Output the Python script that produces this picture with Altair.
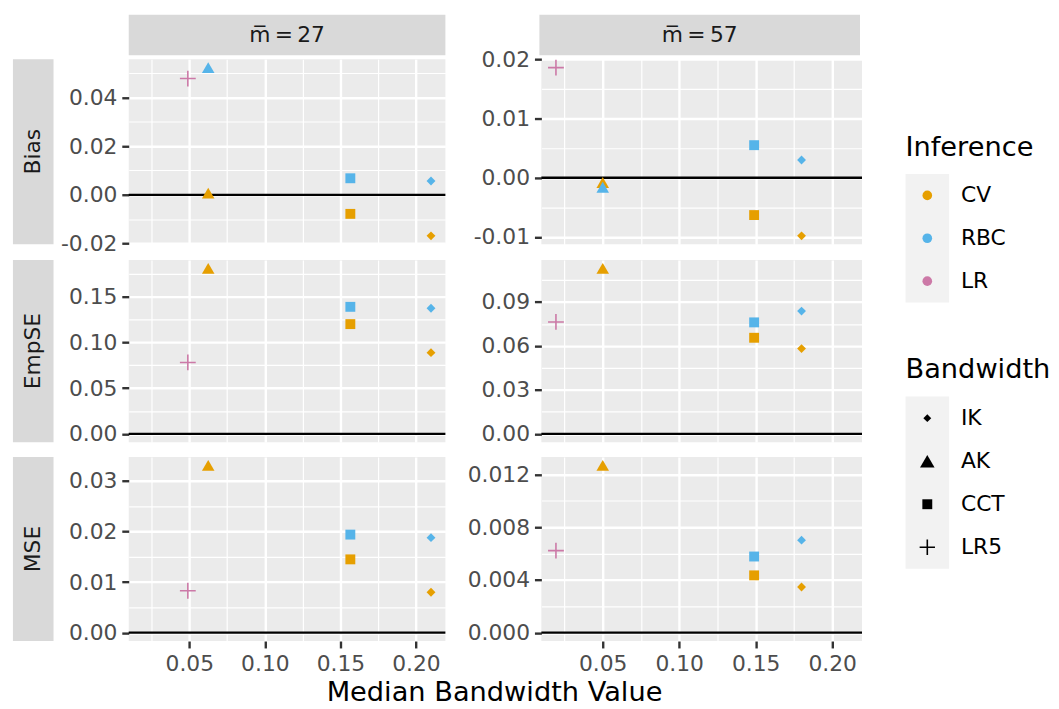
import json
import pandas as pd
import altair as alt

FONT = "DejaVu Sans"

# ---------------- data ----------------
metrics = ["Bias", "EmpSE", "MSE"]
mbar = [27, 57]
strip_labels = ["m\u0305\u2009=\u200927", "m\u0305\u2009=\u200957"]
inference = ["CV", "RBC", "LR"]
inference_colors = ["#E69F00", "#56B4E9", "#CC79A7"]
bandwidths = ["IK", "AK", "CCT", "LR5"]

pt_inference = ["CV", "CV", "CV", "RBC", "RBC", "RBC", "LR"]
pt_bandwidth = ["IK", "AK", "CCT", "IK", "AK", "CCT", "LR5"]

bw_x_27 = [0.210, 0.0625, 0.1566, 0.210, 0.0625, 0.1566, 0.049]
bw_x_57 = [0.180, 0.050, 0.149, 0.180, 0.050, 0.149, 0.0194]

bias_27 = [-0.0168, 0.0007, -0.0078, 0.0057, 0.0522, 0.0068, 0.0477]
bias_57 = [-0.0098, -0.0008, -0.0063, 0.0030, -0.0016, 0.0055, 0.0186]
empse_27 = [0.0888, 0.181, 0.120, 0.1374, None, 0.1389, 0.0781]
empse_57 = [0.0582, 0.113, 0.0656, 0.0838, None, 0.0761, 0.0764]
mse_27 = [0.0080, 0.0331, 0.0145, 0.0188, None, 0.0194, 0.0083]
mse_57 = [0.00347, 0.0127, 0.00435, 0.00702, None, 0.00578, 0.00623]

x_major = [0.05, 0.10, 0.15, 0.20]
x_minor = [0.025, 0.075, 0.125, 0.175]
y_ticks = {
    ("Bias", 27): ([-0.02, 0.0, 0.02, 0.04], [-0.01, 0.01, 0.03, 0.05], 2),
    ("Bias", 57): ([-0.01, 0.0, 0.01, 0.02], [-0.005, 0.005, 0.015], 2),
    ("EmpSE", 27): ([0.0, 0.05, 0.10, 0.15], [0.025, 0.075, 0.125, 0.175], 2),
    ("EmpSE", 57): ([0.0, 0.03, 0.06, 0.09], [0.015, 0.045, 0.075, 0.105], 2),
    ("MSE", 27): ([0.0, 0.01, 0.02, 0.03], [0.005, 0.015, 0.025], 2),
    ("MSE", 57): ([0.0, 0.004, 0.008, 0.012], [0.002, 0.006, 0.010], 3),
}

values = {
    ("Bias", 27): bias_27, ("Bias", 57): bias_57,
    ("EmpSE", 27): empse_27, ("EmpSE", 57): empse_57,
    ("MSE", 27): mse_27, ("MSE", 57): mse_57,
}
xs = {27: bw_x_27, 57: bw_x_57}

rows = []
for (met, m), vals in values.items():
    for inf, bw, x, v in zip(pt_inference, pt_bandwidth, xs[m], vals):
        if v is not None:
            rows.append(dict(metric=met, m=m, inference=inf, bandwidth=bw, x=x, value=v))
df = pd.DataFrame(rows)

# ---------------- styling helpers ----------------
PLUS = "M-1,0L1,0M0,-1L0,1"
color_scale = alt.Scale(domain=inference, range=inference_colors)
panel_shapes = [("IK", "diamond", 80), ("AK", "triangle-up", 161), ("CCT", "square", 100)]
legend_shapes = [("IK", "diamond", 64), ("AK", "triangle-up", 216), ("CCT", "square", 100)]

all_x = df["x"].tolist()
xpad = 0.05 * (max(all_x) - min(all_x))
xdom = [min(all_x) - xpad, max(all_x) + xpad]


def make_axis(major, minor, dec, dom, show=True, extent=None):
    major = [v for v in major if dom[0] <= v <= dom[1]]
    minor = [v for v in minor if dom[0] <= v <= dom[1]]
    is_minor = f"indexof({json.dumps(minor)}, datum.value) >= 0"
    kw = dict(values=major + minor, grid=True, gridColor="#FFFFFF",
              gridWidth={"condition": {"test": is_minor, "value": 1.2}, "value": 2.4},
              domain=False, title=None, labelOverlap=False, labelFlush=False)
    if show:
        fmt = f".{dec}f"
        kw.update(
            labelExpr=(f"{is_minor} ? '' : (datum.value < 0 ? '-' + format(-datum.value, '{fmt}') "
                       f": format(datum.value, '{fmt}'))"),
            labelFont=FONT, labelFontSize=22, labelColor="#4D4D4D", labelPadding=5,
            ticks=True, tickSize=7, tickWidth=2.4,
            tickColor={"condition": {"test": is_minor, "value": "transparent"}, "value": "#333333"},
        )
    else:
        kw.update(labels=False, ticks=False, minExtent=0, maxExtent=0)
    if extent is not None:
        kw.update(minExtent=extent)
    return alt.Axis(**kw)


def panel(metric, m, width, height, extent, bottom):
    d = df[(df.metric == metric) & (df.m == m)]
    vals = d["value"].tolist() + [0.0]
    lo, hi = min(vals), max(vals)
    pad = 0.05 * (hi - lo)
    ydom = [lo - pad, hi + pad]
    major, minor, dec = y_ticks[(metric, m)]
    yaxis = make_axis(major, minor, dec, ydom, True, extent)
    xaxis = make_axis(x_major, x_minor, 2, xdom, bottom)
    if bottom:
        xaxis.labelPadding = 6
    x_enc = alt.X("x:Q", scale=alt.Scale(domain=xdom, nice=False, zero=False), axis=xaxis)
    y_enc = alt.Y("value:Q", scale=alt.Scale(domain=ydom, nice=False, zero=False), axis=yaxis)
    color_enc = alt.Color("inference:N", scale=color_scale, legend=None)

    layers = [alt.Chart(pd.DataFrame({"value": [0.0]})).mark_rule(
        color="#000000", strokeWidth=2.4).encode(y=y_enc)]
    for bw, shape, size in panel_shapes:
        layers.append(alt.Chart(d[d.bandwidth == bw]).mark_point(
            filled=True, opacity=1, shape=shape, size=size).encode(x=x_enc, y=y_enc, color=color_enc))
    layers.append(alt.Chart(d[d.bandwidth == "LR5"]).mark_point(
        shape=PLUS, filled=False, size=256, strokeWidth=1.6, opacity=1).encode(
        x=x_enc, y=y_enc, color=color_enc))
    return alt.layer(*layers).properties(
        width=width, height=height,
        view=alt.ViewBackground(fill="#EBEBEB", stroke=None))


def spacer(w, h):
    return alt.Chart(pd.DataFrame({"t": [""]})).mark_text(fontSize=1).encode(
        text="t:N", x=alt.value(w / 2), y=alt.value(h / 2)).properties(
        width=w, height=h, view=alt.ViewBackground(fill="#FFFFFF", stroke=None))


def col_strip(label, w):
    return alt.Chart(pd.DataFrame({"label": [label]})).mark_text(
        fontSize=22, font=FONT, color="#1A1A1A", align="center", baseline="middle").encode(
        text="label:N", x=alt.value(w / 2), y=alt.value(20.5)).properties(
        width=w, height=41, view=alt.ViewBackground(fill="#D9D9D9", stroke=None))


def row_strip(label, h):
    return alt.Chart(pd.DataFrame({"label": [label]})).mark_text(
        angle=270, fontSize=22, font=FONT, color="#1A1A1A", align="center", baseline="middle").encode(
        text="label:N", x=alt.value(20.5), y=alt.value(h / 2)).properties(
        width=41, height=h, view=alt.ViewBackground(fill="#D9D9D9", stroke=None))


heights = {"Bias": 187, "EmpSE": 184, "MSE": 186}
widths = {27: 320, 57: 324}


def grid_row(metric, bottom=False):
    h = heights[metric]
    return alt.hconcat(
        row_strip(metric, h),
        panel(metric, 27, widths[27], h, 71, bottom),
        panel(metric, 57, widths[57], h, 90, bottom),
        spacing=5)


strip_row = alt.hconcat(spacer(22, 41), col_strip(strip_labels[0], widths[27]),
                        col_strip(strip_labels[1], widths[57]), spacing=95)

block_a = alt.vconcat(strip_row, grid_row("Bias"), spacing=-7)
block_b = alt.vconcat(grid_row("EmpSE"), grid_row("MSE", bottom=True), spacing=12)
main = alt.vconcat(block_a, block_b, spacing=5).properties(
    title=alt.TitleParams("Median Bandwidth Value", orient="bottom", anchor="start",
                          dx=317, offset=5, fontSize=27.5, font=FONT, fontWeight="normal",
                          color="#000000"))

# ---------------- legends ----------------
inf_df = pd.DataFrame({"cat": inference})
y_inf = alt.Y("cat:N", sort=inference, scale=alt.Scale(domain=inference), axis=None)
inf_leg = alt.layer(
    alt.Chart(inf_df).mark_point(filled=True, opacity=1, shape="circle", size=95).encode(
        x=alt.value(22), y=y_inf, color=alt.Color("cat:N", scale=color_scale, legend=None)),
    alt.Chart(inf_df).mark_text(align="left", baseline="middle", fontSize=22, font=FONT,
                                color="#000000").encode(x=alt.value(56), y=y_inf, text="cat:N"),
).properties(width=44, height=130, view=alt.ViewBackground(fill="#F2F2F2", stroke=None),
             title=alt.TitleParams("Inference", anchor="start", fontSize=27.5, font=FONT,
                                   fontWeight="normal", color="#000000", offset=13))

bw_df = pd.DataFrame({"cat": bandwidths})
y_bw = alt.Y("cat:N", sort=bandwidths, scale=alt.Scale(domain=bandwidths), axis=None)
bw_layers = []
for bw, shape, size in legend_shapes:
    bw_layers.append(alt.Chart(bw_df[bw_df.cat == bw]).mark_point(
        filled=True, opacity=1, color="#000000", shape=shape, size=size).encode(
        x=alt.value(22), y=y_bw))
bw_layers.append(alt.Chart(bw_df[bw_df.cat == "LR5"]).mark_point(
    shape=PLUS, filled=False, size=240, strokeWidth=1.6, opacity=1, color="#000000").encode(
    x=alt.value(22), y=y_bw))
bw_layers.append(alt.Chart(bw_df).mark_text(align="left", baseline="middle", fontSize=22, font=FONT,
                                            color="#000000").encode(x=alt.value(56), y=y_bw, text="cat:N"))
bw_leg = alt.layer(*bw_layers).properties(
    width=44, height=174, view=alt.ViewBackground(fill="#F2F2F2", stroke=None),
    title=alt.TitleParams("Bandwidth", anchor="start", fontSize=27.5, font=FONT,
                          fontWeight="normal", color="#000000", offset=13))

legend_col = alt.vconcat(alt.vconcat(spacer(1, 120), inf_leg, spacing=0), bw_leg, spacing=54)

chart = alt.hconcat(main, legend_col, spacing=42).properties(
    padding={"left": 5, "top": 3, "right": 0, "bottom": 1}
).configure_view(stroke=None).configure(font=FONT)

chart.save("out.html", embed_options={"renderer": "svg", "actions": False})
